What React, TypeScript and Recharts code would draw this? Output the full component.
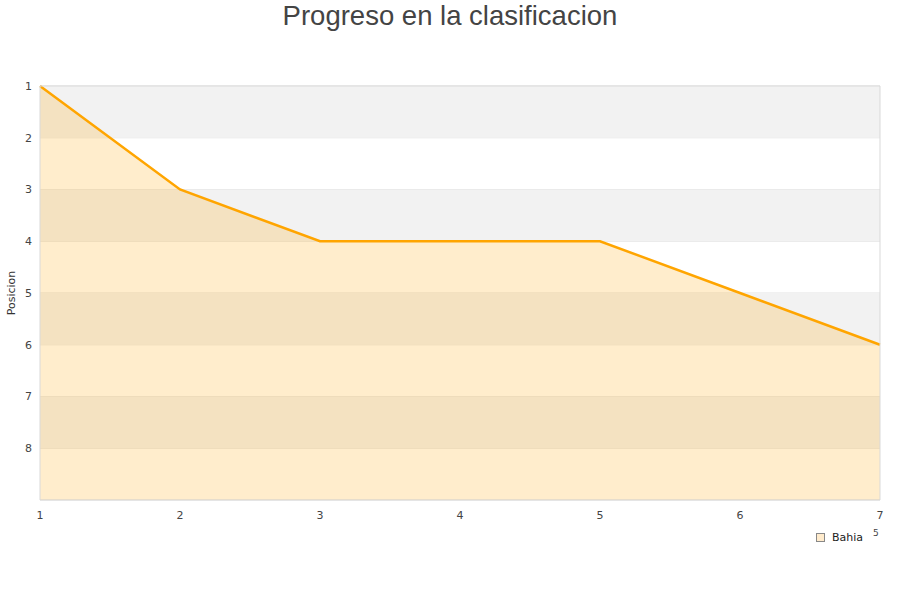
import * as React from 'react';
import {
  AreaChart,
  Area,
  XAxis,
  YAxis,
  CartesianGrid,
  ReferenceArea,
  Legend,
} from 'recharts';

// jornadas (x) y posicion en la tabla (y, invertido)
const jornadas = [1, 2, 3, 4, 5, 6, 7];
const posiciones = [1, 3, 4, 4, 4, 5, 6];
const xTicks = [1, 2, 3, 4, 5, 6, 7];
const yTicks = [1, 2, 3, 4, 5, 6, 7, 8];
// bandas grises alternas del fondo
const bandStarts = [1, 3, 5, 7];

const data = jornadas.map((j, i) => ({ jornada: j, Bahia: posiciones[i] }));

const tickStyle = { fill: '#444', fontSize: 11, fontFamily: 'DejaVu Sans' };

function LegendContent() {
  return (
    <div style={{ position: 'relative', fontFamily: 'DejaVu Sans', fontSize: 11, color: '#222' }}>
      <div style={{ display: 'flex', alignItems: 'center', gap: 7 }}>
        <span
          style={{
            display: 'inline-block',
            width: 7,
            height: 7,
            background: '#ffebcc',
            border: '1px solid #888',
          }}
        />
        <span>Bahia</span>
      </div>
      <span style={{ position: 'absolute', left: 57, top: -3, fontSize: 9, color: '#444' }}>5</span>
    </div>
  );
}

export default function App() {
  return (
    <div style={{ position: 'absolute', left: 0, top: 0, width: 900, height: 600, background: '#fff' }}>
      <div
        style={{
          position: 'absolute',
          top: 0,
          left: 0,
          width: 900,
          textAlign: 'center',
          fontFamily: '"Liberation Sans", Arial, sans-serif',
          fontSize: 27.5,
          color: '#444',
          lineHeight: '32px',
        }}
      >
        Progreso en la clasificacion
      </div>
      <AreaChart
        width={900}
        height={600}
        data={data}
        margin={{ top: 86, right: 20, left: 0, bottom: 70 }}
      >
        {bandStarts.map((b) => (
          <ReferenceArea
            key={b}
            x1={1}
            x2={7}
            y1={b}
            y2={b + 1}
            fill="#f2f2f2"
            fillOpacity={1}
            stroke="none"
          />
        ))}
        <CartesianGrid vertical={false} stroke="#e2e2e2" strokeDasharray="" />
        <XAxis
          dataKey="jornada"
          type="number"
          domain={[1, 7]}
          ticks={xTicks}
          tick={{ ...tickStyle, dy: 3 }}
          axisLine={false}
          tickLine={false}
          height={30}
        />
        <YAxis
          type="number"
          reversed
          domain={[1, 9]}
          ticks={yTicks}
          tick={tickStyle}
          axisLine={false}
          tickLine={false}
          width={40}
          label={{
            value: 'Posicion',
            angle: -90,
            position: 'insideLeft',
            offset: 11,
            style: { textAnchor: 'middle', fill: '#333', fontSize: 11, fontFamily: 'DejaVu Sans' },
          }}
        />
        <Area
          type="linear"
          dataKey="Bahia"
          baseValue="dataMax"
          stroke="#ffa500"
          strokeWidth={2.5}
          fill="#ffa500"
          fillOpacity={0.2}
          dot={false}
          activeDot={false}
          isAnimationActive={false}
        />
        <ReferenceArea x1={1} x2={7} y1={1} y2={9} fill="none" stroke="#d9d9d9" strokeWidth={1} />
        <Legend
          layout="horizontal"
          verticalAlign="middle"
          align="center"
          content={<LegendContent />}
          wrapperStyle={{ position: 'absolute', left: 816, top: 531, width: 80 }}
        />
      </AreaChart>
    </div>
  );
}
